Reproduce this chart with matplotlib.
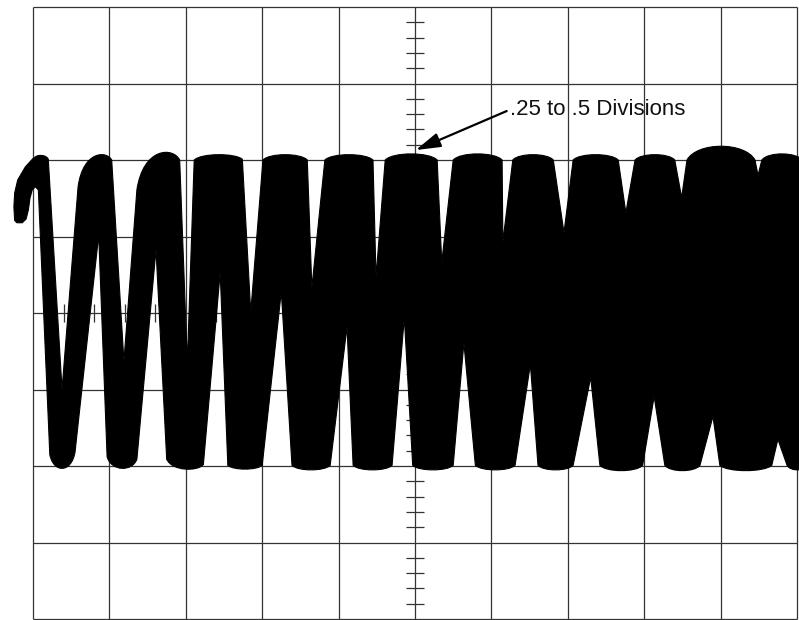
import matplotlib
matplotlib.use("Agg")
import matplotlib.pyplot as plt
from matplotlib.path import Path
from matplotlib.patches import PathPatch

# ---------------- graticule ----------------
n_xdiv = 10
n_ydiv = 8
minor_step = 0.2
annotation_text = ".25 to .5 Divisions"

# ---------------- trace (values in divisions) ----------------
# starting hook: outer edge (from the end of the hook upward) and inner edge
hook_outer_x = [-0.24, -0.25, -0.24, -0.20, -0.10, 0.00]
hook_outer_y = [1.21, 1.39, 1.57, 1.74, 1.91, 2.02]
hook_inner_x = [0.07, 0.03, -0.01, -0.04, -0.06, -0.09, -0.14, -0.21]
hook_inner_y = [1.61, 1.65, 1.61, 1.50, 1.35, 1.23, 1.18, 1.18]

# upper lobes of the trace
top_left_x = [0.02, 0.59, 1.36, 2.11, 3.01, 3.82, 4.61, 5.50, 6.28, 7.07, 7.88, 8.56, 9.54]
top_left_y = [2.03, 1.65, 1.61, 2.00, 2.00, 2.00, 2.00, 2.00, 2.00, 2.00, 2.00, 2.00, 2.00]
top_right_x = [0.20, 1.03, 1.92, 2.74, 3.59, 4.45, 5.29, 6.14, 6.81, 7.66, 8.40, 9.45, 10.08]
top_right_y = [2.01, 2.00, 2.00, 2.01, 2.00, 2.00, 2.00, 2.00, 2.00, 2.00, 2.00, 2.00, 1.99]
top_peak_y = [2.06, 2.05, 2.08, 2.07, 2.07, 2.07, 2.08, 2.08, 2.07, 2.07, 2.07, 2.18, 2.08]
# lowest point of the white notches between upper lobes
top_gap_x = [0.38, 1.19, 2.02, 2.85, 3.65, 4.49, 5.35, 6.15, 6.95, 7.76, 8.49, 9.49]
top_gap_y = [-1.00, -0.63, -0.65, 0.01, 0.33, 0.47, 0.66, 0.93, 1.05, 1.31, 1.51, 1.80]

# lower lobes of the trace
bot_left_x = [0.22, 0.97, 1.75, 2.55, 3.39, 4.19, 4.97, 5.79, 6.61, 7.42, 8.27, 8.99, 9.87]
bot_left_y = [-1.85, -1.88, -1.91, -1.99, -1.99, -1.99, -1.99, -1.99, -1.99, -1.99, -1.99, -1.99, -1.99]
bot_right_x = [0.55, 1.36, 2.23, 3.00, 3.89, 4.70, 5.50, 6.31, 7.07, 7.98, 8.73, 9.67, 10.14]
bot_right_y = [-1.82, -1.91, -1.98, -1.99, -1.99, -1.99, -1.99, -1.99, -1.99, -1.99, -1.99, -1.99, -1.99]
bot_depth_y = [-2.03, -2.03, -2.04, -2.04, -2.05, -2.05, -2.05, -2.05, -2.05, -2.06, -2.06, -2.06, -2.05]
# highest point of the white notches between lower lobes
bot_gap_x = [0.86, 1.61, 2.45, 3.25, 4.11, 4.86, 5.64, 6.51, 7.30, 8.13, 8.90, 9.75]
bot_gap_y = [1.02, 0.83, 0.53, 0.28, -0.18, -0.06, -0.39, -0.67, -0.84, -1.09, -1.35, -1.65]

# annotation (arrow tip on the centre lobe, text start)
arrow_tip = (5.01, 2.13)
arrow_tail = (6.20, 2.64)
text_pos = (6.24, 2.655)

# ---------------- figure ----------------
W, H, DPI = 799, 620, 100
fig = plt.figure(figsize=(W / DPI, H / DPI), dpi=DPI)
ax = fig.add_axes([0, 0, 1, 1])
ax.set_xlim(-33 / 76.4, n_xdiv + 2 / 76.4)
ax.set_ylim(-n_ydiv / 2 - 0.012, n_ydiv / 2 + 7 / 76.6)
ax.axis("off")

grid_color = "#333333"
grid_lw = 0.9
ax.vlines(range(n_xdiv + 1), -n_ydiv / 2, n_ydiv / 2, colors=grid_color, linewidth=grid_lw, zorder=1)
ax.hlines([y - n_ydiv / 2 for y in range(n_ydiv + 1)], 0, n_xdiv, colors=grid_color, linewidth=grid_lw, zorder=1)

# minor ticks on the centre axes
cx = n_xdiv / 2
tick_half = 0.12
ys = [k * minor_step - n_ydiv / 2 for k in range(int(n_ydiv / minor_step) + 1) if k % 5 != 0]
ax.hlines(ys, cx - tick_half, cx + tick_half, colors=grid_color, linewidth=grid_lw, zorder=1)
xs = [k * minor_step for k in range(int(n_xdiv / minor_step) + 1) if k % 5 != 0]
ax.vlines(xs, -tick_half, tick_half, colors=grid_color, linewidth=grid_lw, zorder=1)

# ---------------- trace outline ----------------
a = 0.15
verts, codes = [], []


def add(pt, code):
    verts.append(pt)
    codes.append(code)


add((hook_outer_x[0], hook_outer_y[0]), Path.MOVETO)
for x, y in zip(hook_outer_x[1:], hook_outer_y[1:]):
    add((x, y), Path.LINETO)

for i in range(len(top_left_x)):
    xl, yl = top_left_x[i], top_left_y[i]
    xr, yr = top_right_x[i], top_right_y[i]
    yp = top_peak_y[i]
    w = xr - xl
    cy = (8 * yp - yl - yr) / 6
    add((xl, yl), Path.LINETO)
    add((xl + a * w, cy), Path.CURVE4)
    add((xr - a * w, cy), Path.CURVE4)
    add((xr, yr), Path.CURVE4)
    if i < len(top_gap_x):
        add((top_gap_x[i], top_gap_y[i]), Path.LINETO)

for i in reversed(range(len(bot_left_x))):
    xl, yl = bot_left_x[i], bot_left_y[i]
    xr, yr = bot_right_x[i], bot_right_y[i]
    yd = bot_depth_y[i]
    w = xr - xl
    cy = (8 * yd - yl - yr) / 6
    add((xr, yr), Path.LINETO)
    add((xr - a * w, cy), Path.CURVE4)
    add((xl + a * w, cy), Path.CURVE4)
    add((xl, yl), Path.CURVE4)
    if i > 0:
        add((bot_gap_x[i - 1], bot_gap_y[i - 1]), Path.LINETO)

for x, y in zip(hook_inner_x, hook_inner_y):
    add((x, y), Path.LINETO)
add((hook_outer_x[0], hook_outer_y[0]), Path.CLOSEPOLY)

trace = PathPatch(Path(verts, codes), facecolor="black", edgecolor="black",
                  linewidth=0.8, joinstyle="round", zorder=2)
ax.add_patch(trace)

# ---------------- annotation ----------------
ax.annotate("", xy=arrow_tip, xytext=arrow_tail,
            arrowprops=dict(arrowstyle="-|>,head_length=0.75,head_width=0.22",
                            mutation_scale=20, lw=1.6, color="black",
                            shrinkA=0, shrinkB=0), zorder=3)
ax.text(text_pos[0], text_pos[1], annotation_text, ha="left", va="center",
        fontsize=16, family=["Liberation Sans", "DejaVu Sans"], color="#111111", zorder=3)

fig.savefig("out.png", dpi=DPI, facecolor="white")
